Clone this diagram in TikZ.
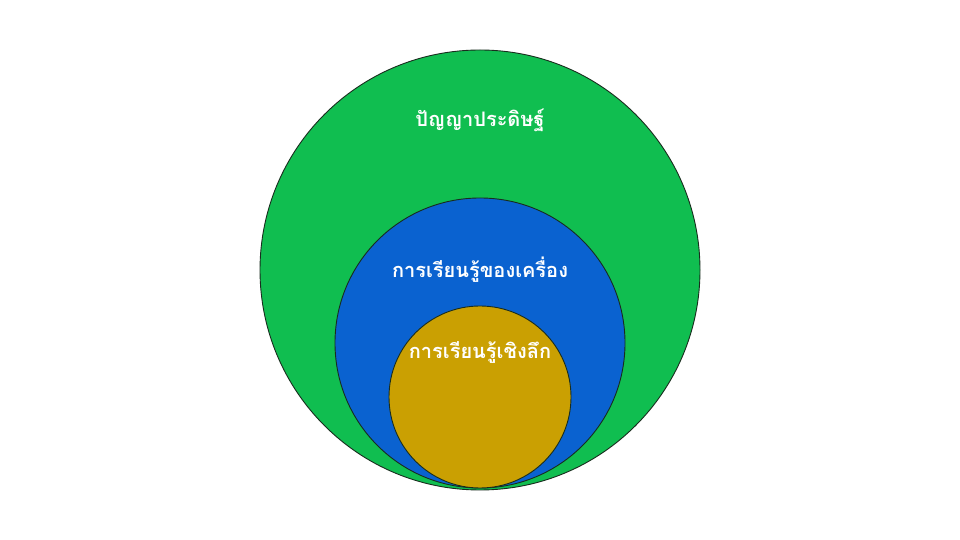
\documentclass[tikz,border=0pt]{standalone}
\usepackage{fontspec}
\newfontfamily\thaifont[Script=Thai]{Loma}
\definecolor{aigreen}{RGB}{16,190,80}
\definecolor{mlblue}{RGB}{10,98,208}
\definecolor{dlgold}{RGB}{202,160,2}
\definecolor{ringline}{RGB}{25,45,30}
\begin{document}
\begin{tikzpicture}[x=1pt,y=1pt,
  ring/.style={draw=ringline,line width=0.9pt},
  lbl/.style={text=white,font=\thaifont\bfseries\fontsize{20}{24}\selectfont,inner sep=0pt}]
\useasboundingbox (0,0) rectangle (960,540);
\fill[white] (0,0) rectangle (960,540);
\node[ring,fill=aigreen,circle,minimum size=440pt,inner sep=0pt] (ai) at (480,270) {};
\node[ring,fill=mlblue,circle,minimum size=290pt,inner sep=0pt] (ml) at (480,197) {};
\node[ring,fill=dlgold,circle,minimum size=182pt,inner sep=0pt] (dl) at (480,143) {};
\node[lbl] (tai) at (480,420) {ปัญญาประดิษฐ์};
\node[lbl] (tml) at (480,270) {การเรียนรู้ของเครื่อง};
\node[lbl] (tdl) at (480,188) {การเรียนรู้เชิงลึก};
\end{tikzpicture}
\end{document}
